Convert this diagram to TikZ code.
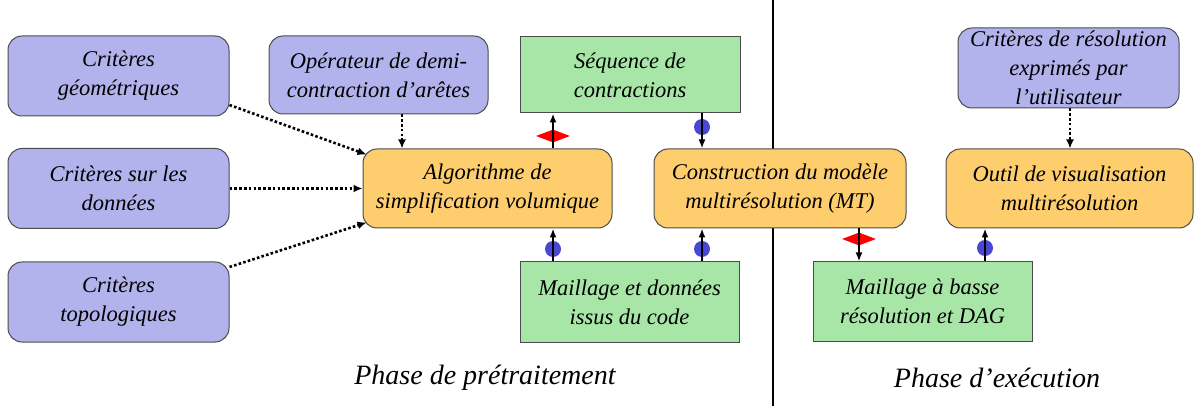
\documentclass[tikz,border=0pt]{standalone}
\usepackage{fontspec}
\setmainfont{Liberation Serif}
\usetikzlibrary{arrows.meta,shapes.geometric}
\definecolor{bluebox}{RGB}{178,178,236}
\definecolor{orangebox}{RGB}{253,205,110}
\definecolor{greenbox}{RGB}{168,230,168}
\definecolor{markblue}{RGB}{40,40,200}
\begin{document}
\begin{tikzpicture}[x=1pt,y=-1pt,
  base/.style={draw=black!70, line width=1pt, align=center, inner sep=0pt,
    font=\fontsize{22.5}{29}\selectfont\itshape},
  crit/.style={base, fill=bluebox, rounded corners=14pt},
  proc/.style={base, fill=orangebox, rounded corners=14pt},
  data/.style={base, fill=greenbox},
  dep/.style={line width=2.6pt, dash pattern=on 2.6pt off 2.2pt,
    -{Latex[length=9pt,width=8pt]}},
  flow/.style={line width=1.8pt, -{Latex[length=9pt,width=7pt]}},
  reddia/.style={diamond, fill=red, minimum width=34pt, minimum height=13pt, inner sep=0pt},
  bluedot/.style={ellipse, fill=markblue!85, minimum width=16pt, minimum height=16pt, inner sep=0pt},
  phase/.style={font=\fontsize{28}{32}\selectfont\itshape}]
\useasboundingbox (0,0) rectangle (1195,406);
% divider (behind the boxes)
\draw[line width=2pt] (773,0) -- (773,406);
% boxes
\node[crit, minimum width=221pt, minimum height=80pt] (g1) at (118.5,76) {Critères\\géométriques};
\node[crit, minimum width=221pt, minimum height=80pt] (g2) at (118.5,188.5) {Critères sur les\\données};
\node[crit, minimum width=221pt, minimum height=80pt] (g3) at (118.5,302) {Critères\\topologiques};
\node[crit, minimum width=219pt, minimum height=78pt] (op) at (378.5,75) {Opérateur de demi-\\contraction d'arêtes};
\node[data, minimum width=220pt, minimum height=76pt] (seq) at (630,75) {Séquence de\\contractions};
\node[proc, minimum width=249pt, minimum height=79pt] (alg) at (487.5,188.5) {Algorithme de\\simplification volumique};
\node[proc, minimum width=252pt, minimum height=79pt] (con) at (780,188.5) {Construction du modèle\\multirésolution (MT)};
\node[proc, minimum width=247pt, minimum height=79pt] (out) at (1069.5,188.5) {Outil de visualisation\\multirésolution};
\node[data, minimum width=219pt, minimum height=80pt] (md) at (629.5,302) {Maillage et données\\issus du code};
\node[data, minimum width=219pt, minimum height=79pt] (mb) at (922.5,301.5) {Maillage à basse\\résolution et DAG};
\node[crit, minimum width=221pt, minimum height=80pt] (cr) at (1068.5,68) {Critères de résolution\\exprimés par\\l'utilisateur};
% phase labels
\node[phase] (p1) at (485,378) {Phase de prétraitement};
\node[phase] (p2) at (997,378) {Phase d'exécution};
% x positions
\coordinate (x402) at (402,0);
\coordinate (x553) at (553,0);
\coordinate (x702) at (702,0);
\coordinate (x859) at (859,0);
\coordinate (x985) at (985,0);
\coordinate (x1070) at (1070,0);
% markers
\node[reddia] (m1) at (553,136) {};
\node[bluedot] (m2) at (702,127) {};
\node[bluedot] (m3) at (553,249) {};
\node[bluedot] (m4) at (702,249) {};
\node[reddia] (m5) at (859,239) {};
\node[bluedot] (m6) at (985,248) {};
% dotted dependencies
\draw[dep] ([yshift=-29pt]g1.east) -- ([shift={(4pt,-6pt)}]alg.north west);
\draw[dep] (g2.east) -- (alg.west);
\draw[dep] ([yshift=35pt]g3.east) -- ([shift={(4pt,6pt)}]alg.south west);
\draw[dep] (x402 |- op.south) -- (x402 |- alg.north);
\draw[dep] (x1070 |- cr.south) -- (x1070 |- out.north);
% solid flows
\draw[flow] (x553 |- alg.north) -- (x553 |- seq.south);
\draw[flow] (x702 |- seq.south) -- (x702 |- con.north);
\draw[flow] (x553 |- md.north) -- (x553 |- alg.south);
\draw[flow] (x702 |- md.north) -- (x702 |- con.south);
\draw[flow] (x859 |- con.south) -- (x859 |- mb.north);
\draw[flow] (x985 |- mb.north) -- (x985 |- out.south);
\end{tikzpicture}
\end{document}
